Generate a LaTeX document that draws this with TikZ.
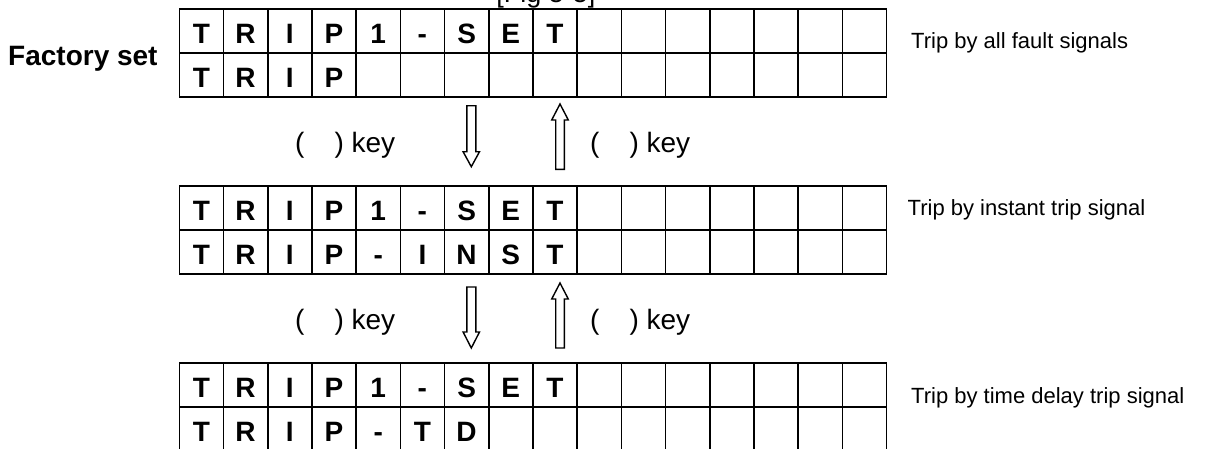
\documentclass[tikz,border=0pt]{standalone}
\usepackage{fontspec}
\setmainfont{Liberation Sans}
\newcommand{\blkdown}[4]{% x, top, head base, tip
  \draw[blockarrow] (#1-4.5,#2) -- (#1+4.5,#2) -- (#1+4.5,#3) -- (#1+8.2,#3) -- (#1,#4) -- (#1-8.2,#3) -- (#1-4.5,#3) -- cycle;}
\newcommand{\blkup}[4]{% x, bottom, head base, tip
  \draw[blockarrow] (#1-4.3,#2) -- (#1+4.3,#2) -- (#1+4.3,#3) -- (#1+8.3,#3) -- (#1,#4) -- (#1-8.3,#3) -- (#1-4.3,#3) -- cycle;}
\begin{document}
\begin{tikzpicture}[x=1pt,y=-1pt,
  cell/.style={font=\fontsize{28}{30}\selectfont\bfseries, anchor=base, inner sep=0pt},
  gridline/.style={line width=1.6pt},
  keylbl/.style={font=\fontsize{28}{30}\selectfont, anchor=base west, inner sep=0pt},
  note/.style={font=\fontsize{22}{24}\selectfont, anchor=base west, inner sep=0pt},
  blockarrow/.style={draw, line width=1.4pt, fill=white, line join=miter}]
\useasboundingbox (0,0) rectangle (1225,448);

% caption (mostly cut off at the top)
\node[font=\fontsize{27}{30}\selectfont, anchor=base, inner sep=0pt] (cap) at (546,2.5) {[Fig 5-5]};

% grids
\foreach \t in {9,186,363} {
  \draw[gridline] (179.3,\t) rectangle (886.5,\t+88);
  \draw[gridline] (179.3,\t+44) -- (886.5,\t+44);
  \foreach \i in {1,...,15} \draw[gridline] ({179.3+44.2*\i},\t) -- ({179.3+44.2*\i},\t+88);
}

% row 1 of every grid
\foreach \t [count=\g] in {9,186,363} {
  \foreach \ch [count=\i] in {T,R,I,P,1,-,S,E,T}
    \node[cell] (g\g a\i) at ({179.3+44.2*(\i-0.5)},\t+34) {\ch};
}
% row 2
\foreach \ch [count=\i] in {T,R,I,P}
  \node[cell] (g1b\i) at ({179.3+44.2*(\i-0.5)},9+78) {\ch};
\foreach \ch [count=\i] in {T,R,I,P,-,I,N,S,T}
  \node[cell] (g2b\i) at ({179.3+44.2*(\i-0.5)},186+78) {\ch};
\foreach \ch [count=\i] in {T,R,I,P,-,T,D}
  \node[cell] (g3b\i) at ({179.3+44.2*(\i-0.5)},363+78) {\ch};

% left label
\node[font=\fontsize{28}{30}\selectfont\bfseries, anchor=base west, inner sep=0pt] (factory) at (8,65) {Factory set};

% right notes
\node[note] (n1) at (911,48.3) {Trip by all fault signals};
\node[note] (n2) at (907.5,215) {Trip by instant trip signal};
\node[note] (n3) at (911,403) {Trip by time delay trip signal};

% key labels
\node[keylbl] (k1l) at (295,152.5) {(\hspace{30pt}) key};
\node[keylbl] (k1r) at (590,152.5) {(\hspace{30pt}) key};
\node[keylbl] (k2l) at (295,329.5) {(\hspace{30pt}) key};
\node[keylbl] (k2r) at (590,329.5) {(\hspace{30pt}) key};

% block arrows
\blkdown{471.3}{105.7}{151.7}{166.7}
\blkup{560}{169.3}{120}{104}
\blkdown{471.3}{287}{332}{348}
\blkup{560}{348}{299}{283}
\end{tikzpicture}
\end{document}
